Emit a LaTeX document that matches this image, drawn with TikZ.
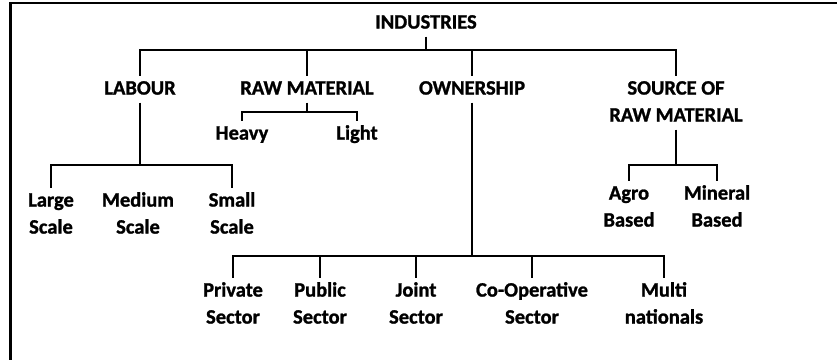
\documentclass[tikz,border=0pt]{standalone}
\usepackage{fontspec}
\setmainfont{Carlito}[BoldFeatures={FakeBold=1.2}]
\begin{document}
\begin{tikzpicture}[x=1pt,y=-1pt,
  lbl/.style={inner sep=0pt,outer sep=0pt,anchor=base,font=\fontsize{20.5}{27}\selectfont\bfseries},
  conn/.style={line width=2pt,black},
  frame/.style={black}]
\useasboundingbox (0,0) rectangle (837,360);
\newcommand{\lines}[1]{\begin{tabular}[t]{@{}c@{}}#1\end{tabular}}
% frame (top and left edges)
\draw[frame,line width=2pt] (9,3) -- (837,3);
\draw[frame,line width=3pt] (10,2) -- (10,360);
% nodes
\node[lbl] (ind)  at (426,28.6) {\lines{INDUSTRIES}};
\node[lbl] (lab)  at (140,94.6) {\lines{LABOUR}};
\node[lbl] (raw)  at (307,94.6) {\lines{RAW MATERIAL}};
\node[lbl] (own)  at (472,94.6) {\lines{OWNERSHIP}};
\node[lbl] (src)  at (676,94.6) {\lines{SOURCE OF\\RAW MATERIAL}};
\node[lbl] (hvy)  at (242,139.6) {\lines{Heavy}};
\node[lbl] (lgt)  at (357,139.6) {\lines{Light}};
\node[lbl] (lrg)  at (51,206.6) {\lines{Large\\Scale}};
\node[lbl] (med)  at (138,206.6) {\lines{Medium\\Scale}};
\node[lbl] (sml)  at (232,206.6) {\lines{Small\\Scale}};
\node[lbl] (agr)  at (629,199.6) {\lines{Agro\\Based}};
\node[lbl] (min)  at (717,199.6) {\lines{Mineral\\Based}};
\node[lbl] (prv)  at (233,296.6) {\lines{Private\\Sector}};
\node[lbl] (pub)  at (320,296.6) {\lines{Public\\Sector}};
\node[lbl] (jnt)  at (416,296.6) {\lines{Joint\\Sector}};
\node[lbl] (cop)  at (532,296.6) {\lines{Co-Operative\\Sector}};
\node[lbl] (mul)  at (664,296.6) {\lines{Multi\\nationals}};
% bar levels
\coordinate (b0) at (0,50);
\coordinate (b1) at (0,112);
\coordinate (b2) at (0,165);
\coordinate (b3) at (0,256);
\coordinate (b4) at (0,165);
% top level
\draw[conn] (ind.south) -- (ind.south |- b0);
\draw[conn] (lab.north) -- (lab.north |- b0) -- (src.north |- b0) -- (src.north);
\draw[conn] (raw.north) -- (raw.north |- b0);
\draw[conn] (own.north) -- (own.north |- b0);
% raw material
\draw[conn] (raw.south) -- (raw.south |- b1);
\draw[conn] (hvy.north) -- (hvy.north |- b1) -- (lgt.north |- b1) -- (lgt.north);
% labour
\draw[conn] (lab.south) -- (lab.south |- b2);
\draw[conn] (lrg.north) -- (lrg.north |- b2) -- (sml.north |- b2) -- (sml.north);
% ownership
\draw[conn] (own.south) -- (own.south |- b3);
\draw[conn] (prv.north) -- (prv.north |- b3) -- (mul.north |- b3) -- (mul.north);
\draw[conn] (pub.north) -- (pub.north |- b3);
\draw[conn] (jnt.north) -- (jnt.north |- b3);
\draw[conn] (cop.north) -- (cop.north |- b3);
% source of raw material
\draw[conn] (src.south) -- (src.south |- b4);
\draw[conn] (agr.north) -- (agr.north |- b4) -- (min.north |- b4) -- (min.north);
\end{tikzpicture}
\end{document}
